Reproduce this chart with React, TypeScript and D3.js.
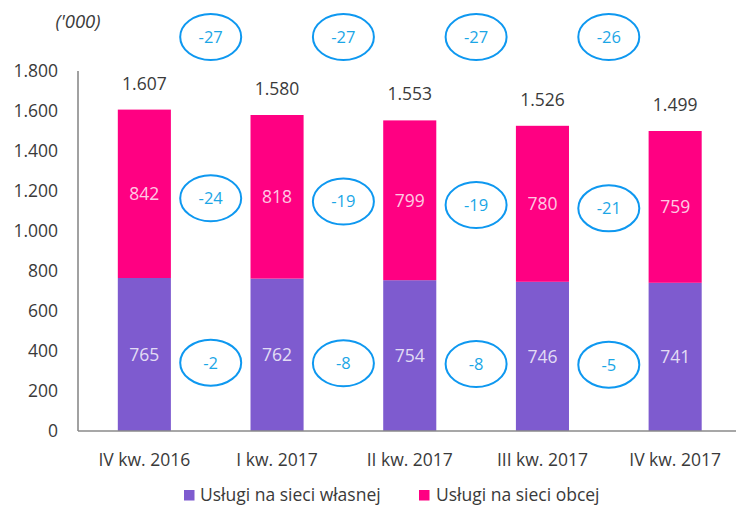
import React from "react";
import * as d3 from "d3";

const categories = ["IV kw. 2016", "I kw. 2017", "II kw. 2017", "III kw. 2017", "IV kw. 2017"];
const ownNetwork = [765, 762, 754, 746, 741];
const otherNetwork = [842, 818, 799, 780, 759];
const totals = [1607, 1580, 1553, 1526, 1499];
const totalDeltas = [-27, -27, -27, -26];
const otherDeltas = [-24, -19, -19, -21];
const ownDeltas = [-2, -8, -8, -5];
const yTicks = [0, 200, 400, 600, 800, 1000, 1200, 1400, 1600, 1800];
const seriesNames = ["Usługi na sieci własnej", "Usługi na sieci obcej"];

const W = 736;
const H = 506;
const FONT = "'Open Sans', sans-serif";
const PURPLE = "#7E5BCF";
const PINK = "#FF0082";
const AXIS = "#8a8a8a";
const TEXT = "#3a3a3a";
const BLUE = "#0E98F0";
const BLUE_TEXT = "#1BA6E6";
const FS = 17.5;

const fmt = (v: number) => {
  const s = String(Math.abs(v));
  const withSep = s.replace(/\B(?=(\d{3})+(?!\d))/g, ".");
  return (v < 0 ? "-" : "") + withSep;
};

export default function App() {
  const x = d3
    .scaleBand<string>()
    .domain(categories)
    .range([78, 741.5])
    .paddingInner(0.6)
    .paddingOuter(0.3);
  const y = d3.scaleLinear().domain([0, 1800]).range([431, 71]);
  const bw = x.bandwidth();
  const cx = (i: number) => (x(categories[i]) as number) + bw / 2;
  const mid = (i: number) => (cx(i) + cx(i + 1)) / 2;

  const Bubble = ({ px, py, v }: { px: number; py: number; v: number }) => (
    <g>
      <ellipse cx={px} cy={py} rx={30.5} ry={23} fill="none" stroke={BLUE} strokeWidth={2} />
      <text x={px} y={py} dy="0.36em" textAnchor="middle" fontSize={16.5} fill={BLUE_TEXT} fontFamily={FONT}>
        {fmt(v)}
      </text>
    </g>
  );

  return (
    <svg
      width={W}
      height={H}
      style={{ position: "absolute", left: 0, top: 0, background: "#fff" }}
      fontFamily={FONT}
    >
      <rect width={W} height={H} fill="#fff" />
      <text x={78} y={28} textAnchor="middle" fontSize={18.5} fontStyle="italic" fill={TEXT}>
        ('000)
      </text>

      {yTicks.map((t) => (
        <text key={t} x={58} y={y(t)} dy="0.36em" textAnchor="end" fontSize={FS} fill={TEXT}>
          {fmt(t)}
        </text>
      ))}

      {categories.map((c, i) => {
        const x0 = x(c) as number;
        const yOwnTop = y(ownNetwork[i]);
        const yTop = y(ownNetwork[i] + otherNetwork[i]);
        return (
          <g key={c}>
            <rect x={x0} y={yOwnTop} width={bw} height={y(0) - yOwnTop} fill={PURPLE} />
            <rect x={x0} y={yTop} width={bw} height={yOwnTop - yTop} fill={PINK} />
            <text
              x={cx(i)}
              y={(y(0) + yOwnTop) / 2}
              dy="0.36em"
              textAnchor="middle"
              fontSize={FS}
              fill="#fff"
              fillOpacity={0.8}
            >
              {ownNetwork[i]}
            </text>
            <text
              x={cx(i)}
              y={(yOwnTop + yTop) / 2}
              dy="0.36em"
              textAnchor="middle"
              fontSize={FS}
              fill="#fff"
              fillOpacity={0.8}
            >
              {otherNetwork[i]}
            </text>
            <text x={cx(i)} y={y(totals[i]) - 20} textAnchor="middle" fontSize={FS} fill={TEXT}>
              {fmt(totals[i])}
            </text>
            <text x={cx(i)} y={466} textAnchor="middle" fontSize={FS} fill={TEXT}>
              {c}
            </text>
          </g>
        );
      })}

      <line x1={78} x2={736} y1={y(0)} y2={y(0)} stroke={AXIS} strokeWidth={1.6} />
      <line x1={78} x2={78} y1={y(1800)} y2={y(0)} stroke={AXIS} strokeWidth={1.6} />

      {totalDeltas.map((v, i) => (
        <Bubble key={"t" + i} px={mid(i)} py={y(1970)} v={v} />
      ))}
      {otherDeltas.map((v, i) => {
        const a = ownNetwork[i] + otherNetwork[i] / 2;
        const b = ownNetwork[i + 1] + otherNetwork[i + 1] / 2;
        return <Bubble key={"o" + i} px={mid(i)} py={y((a + b) / 2) + 3} v={v} />;
      })}
      {ownDeltas.map((v, i) => {
        const a = ownNetwork[i] / 2;
        const b = ownNetwork[i + 1] / 2;
        return <Bubble key={"w" + i} px={mid(i)} py={y((a + b) / 2) + 8} v={v} />;
      })}

      <g>
        <rect x={184} y={490} width={10.5} height={10.5} fill={PURPLE} />
        <text x={200} y={501} fontSize={FS} fill={TEXT}>
          {seriesNames[0]}
        </text>
        <rect x={419} y={490} width={10.5} height={10.5} fill={PINK} />
        <text x={436} y={501} fontSize={FS} fill={TEXT}>
          {seriesNames[1]}
        </text>
      </g>
    </svg>
  );
}
